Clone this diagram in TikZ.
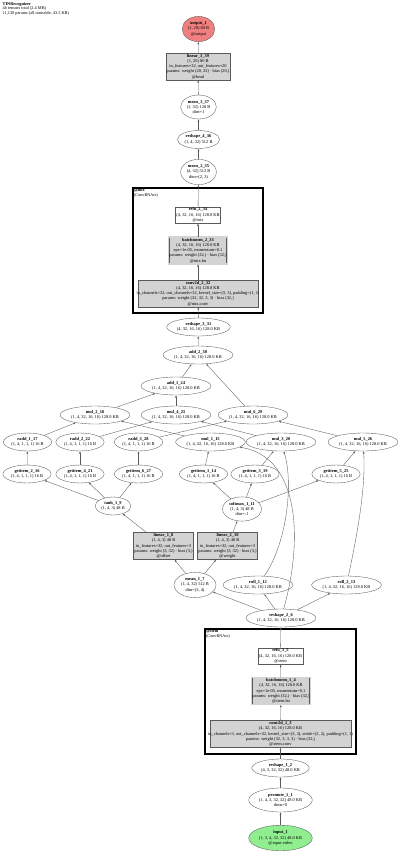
\documentclass[tikz,border=0pt]{standalone}
\usepackage{fontspec}
\setmainfont{Liberation Serif}
\usepackage{tikz}
\usetikzlibrary{arrows.meta,shapes.geometric}
\definecolor{tvgray}{HTML}{D3D3D3}
\definecolor{tvline}{HTML}{5A5A5A}
\definecolor{tvred}{HTML}{F08080}
\definecolor{tvgreen}{HTML}{90EE90}
\tikzset{
  tvtext/.style={font=\fontsize{4.4}{5.3}\selectfont,align=center},
  tvnode/.style={tvtext,ellipse,draw=tvline,line width=0.35pt,inner xsep=0.9pt,inner ysep=1.7pt},
  tvop/.style={tvtext,rectangle,draw=tvline,fill=tvgray,line width=0.35pt,inner xsep=0.8pt,inner ysep=1pt},
  tvact/.style={tvop,fill=white},
  tvbn/.style={tvop,double=tvgray,double distance=1.1pt},
  tvmod/.style={draw=black,line width=1.3pt,inner sep=0pt},
  tvmodlab/.style={font=\fontsize{4.2}{4.8}\selectfont,align=left,anchor=north west,inner sep=1.5pt},
  tvedge/.style={-{Latex[length=2.4pt,width=1.8pt]},draw=tvline,line width=0.35pt}
}

\begin{document}
\begin{tikzpicture}[x=1pt,y=-1pt]
\useasboundingbox (0,0) rectangle (400,854);
\node[tvmodlab,font=\fontsize{4.3}{4.6}\selectfont] (title) at (1,0.5) {\textbf{TINRecognizer}\\46 tensors total (2.4 MB)\\11,130 params (all trainable, 43.5 KB)};
% module frames
\node[tvmod,minimum width=130pt,minimum height=125pt] (mix) at (198,250.5) {};
\node[tvmodlab] (mixlab) at (mix.north west) {\textbf{@mix}\\(ConvBNAct)};
\node[tvmod,minimum width=151pt,minimum height=125pt] (stem) at (280.5,691.5) {};
\node[tvmodlab] (stemlab) at (stem.north west) {\textbf{@stem}\\(ConvBNAct)};
% head
\node[tvnode,fill=tvred] (output_1) at (198.5,29) {\textbf{output\_1}\\(1, 20) 80 B\\@output};
\node[tvop] (linear_3_39) at (198,66.5) {\textbf{linear\_3\_39}\\(1, 20) 80 B\\in\_features=32, out\_features=20\\params: weight (20, 32) · bias (20,)\\@head};
\node[tvnode] (mean_3_37) at (198.5,107) {\textbf{mean\_3\_37}\\(1, 32) 128 B\\dim=1};
\node[tvnode] (reshape_4_36) at (198.5,139.5) {\textbf{reshape\_4\_36}\\(1, 4, 32) 512 B};
\node[tvnode] (mean_2_35) at (198.5,172) {\textbf{mean\_2\_35}\\(4, 32) 512 B\\dim=(2, 3)};
\node[tvact] (relu_2_34) at (198,215) {\textbf{relu\_2\_34}\\(4, 32, 16, 16) 128.0 KB\\@mix};
\node[tvbn] (batchnorm_2_33) at (198,250.5) {\textbf{batchnorm\_2\_33}\\(4, 32, 16, 16) 128.0 KB\\eps=1e-05, momentum=0.1\\params: weight (32,) · bias (32,)\\@mix.bn};
\node[tvop,inner xsep=-1.5pt] (conv2d_2_32) at (198,293.5) {\textbf{conv2d\_2\_32}\\(4, 32, 16, 16) 128.0 KB\\in\_channels=32, out\_channels=32, kernel\_size=(3, 3), padding=(1, 1)\\params: weight (32, 32, 3, 3) · bias (32,)\\@mix.conv};
\node[tvnode] (reshape_3_31) at (198.5,327) {\textbf{reshape\_3\_31}\\(4, 32, 16, 16) 128.0 KB};
% interlace block
\node[tvnode] (add_2_30) at (198,355) {\textbf{add\_2\_30}\\(1, 4, 32, 16, 16) 128.0 KB};
\node[tvnode] (add_1_24) at (176,386) {\textbf{add\_1\_24}\\(1, 4, 32, 16, 16) 128.0 KB};
\node[tvnode] (mul_2_18) at (95,415) {\textbf{mul\_2\_18}\\(1, 4, 32, 16, 16) 128.0 KB};
\node[tvnode] (mul_4_23) at (176,415) {\textbf{mul\_4\_23}\\(1, 4, 32, 16, 16) 128.0 KB};
\node[tvnode] (mul_6_29) at (253,415) {\textbf{mul\_6\_29}\\(1, 4, 32, 16, 16) 128.0 KB};
\node[tvnode] (radd_1_17) at (27.5,442) {\textbf{radd\_1\_17}\\(1, 4, 1, 1, 1) 16 B};
\node[tvnode] (radd_2_22) at (80,442) {\textbf{radd\_2\_22}\\(1, 4, 1, 1, 1) 16 B};
\node[tvnode] (radd_3_28) at (138.5,442) {\textbf{radd\_3\_28}\\(1, 4, 1, 1, 1) 16 B};
\node[tvnode] (mul_1_15) at (210.5,442) {\textbf{mul\_1\_15}\\(1, 4, 32, 16, 16) 128.0 KB};
\node[tvnode] (mul_3_20) at (281,442) {\textbf{mul\_3\_20}\\(1, 4, 32, 16, 16) 128.0 KB};
\node[tvnode] (mul_5_26) at (363,442) {\textbf{mul\_5\_26}\\(1, 4, 32, 16, 16) 128.0 KB};
\node[tvnode] (getitem_2_16) at (27,474) {\textbf{getitem\_2\_16}\\(1, 4, 1, 1, 1) 16 B};
\node[tvnode] (getitem_4_21) at (80,474) {\textbf{getitem\_4\_21}\\(1, 4, 1, 1, 1) 16 B};
\node[tvnode] (getitem_6_27) at (138.5,474) {\textbf{getitem\_6\_27}\\(1, 4, 1, 1, 1) 16 B};
\node[tvnode] (getitem_1_14) at (203.5,474) {\textbf{getitem\_1\_14}\\(1, 4, 1, 1, 1) 16 B};
\node[tvnode] (getitem_3_19) at (255,474) {\textbf{getitem\_3\_19}\\(1, 4, 1, 1, 1) 16 B};
\node[tvnode] (getitem_5_25) at (336,474) {\textbf{getitem\_5\_25}\\(1, 4, 1, 1, 1) 16 B};
\node[tvnode] (tanh_1_9) at (113,506) {\textbf{tanh\_1\_9}\\(1, 4, 3) 48 B};
\node[tvnode] (softmax_1_11) at (242,509) {\textbf{softmax\_1\_11}\\(1, 4, 3) 48 B\\dim=-1};
\node[tvop] (linear_1_8) at (163.5,546) {\textbf{linear\_1\_8}\\(1, 4, 3) 48 B\\in\_features=32, out\_features=3\\params: weight (3, 32) · bias (3,)\\@offset};
\node[tvop] (linear_2_10) at (227.5,546) {\textbf{linear\_2\_10}\\(1, 4, 3) 48 B\\in\_features=32, out\_features=3\\params: weight (3, 32) · bias (3,)\\@weight};
\node[tvnode] (mean_1_7) at (195,585) {\textbf{mean\_1\_7}\\(1, 4, 32) 512 B\\dim=(3, 4)};
\node[tvnode] (roll_1_12) at (258,585) {\textbf{roll\_1\_12}\\(1, 4, 32, 16, 16) 128.0 KB};
\node[tvnode] (roll_2_13) at (346.5,585) {\textbf{roll\_2\_13}\\(1, 4, 32, 16, 16) 128.0 KB};
\node[tvnode] (reshape_2_6) at (281,618) {\textbf{reshape\_2\_6}\\(1, 4, 32, 16, 16) 128.0 KB};
% stem
\node[tvact] (relu_1_5) at (280.5,656) {\textbf{relu\_1\_5}\\(4, 32, 16, 16) 128.0 KB\\@stem};
\node[tvbn] (batchnorm_1_4) at (281,691) {\textbf{batchnorm\_1\_4}\\(4, 32, 16, 16) 128.0 KB\\eps=1e-05, momentum=0.1\\params: weight (32,) · bias (32,)\\@stem.bn};
\node[tvop,inner xsep=-2pt] (conv2d_1_3) at (280.5,734) {\textbf{conv2d\_1\_3}\\(4, 32, 16, 16) 128.0 KB\\in\_channels=3, out\_channels=32, kernel\_size=(3, 3), stride=(2, 2), padding=(1, 1)\\params: weight (32, 3, 3, 3) · bias (32,)\\@stem.conv};
\node[tvnode] (reshape_1_2) at (280.5,768) {\textbf{reshape\_1\_2}\\(4, 3, 32, 32) 48.0 KB};
\node[tvnode] (permute_1_1) at (280.5,800) {\textbf{permute\_1\_1}\\(1, 4, 3, 32, 32) 48.0 KB\\dims=0};
\node[tvnode,fill=tvgreen] (input_1) at (280.5,838) {\textbf{input\_1}\\(1, 3, 4, 32, 32) 48.0 KB\\@input:video};
% edges
\foreach \a/\b in {input_1/permute_1_1,permute_1_1/reshape_1_2,reshape_1_2/conv2d_1_3,
  conv2d_1_3/batchnorm_1_4,batchnorm_1_4/relu_1_5,relu_1_5/reshape_2_6,
  reshape_2_6/mean_1_7,reshape_2_6/roll_1_12,reshape_2_6/roll_2_13,
  mean_1_7/linear_1_8,mean_1_7/linear_2_10,linear_1_8/tanh_1_9,linear_2_10/softmax_1_11,
  tanh_1_9/getitem_2_16,tanh_1_9/getitem_4_21,tanh_1_9/getitem_6_27,
  softmax_1_11/getitem_1_14,softmax_1_11/getitem_3_19,softmax_1_11/getitem_5_25,
  getitem_1_14/mul_1_15,getitem_3_19/mul_3_20,getitem_5_25/mul_5_26,
  getitem_2_16/radd_1_17,getitem_4_21/radd_2_22,getitem_6_27/radd_3_28,
  radd_1_17/mul_2_18,mul_1_15/mul_2_18,radd_2_22/mul_4_23,mul_3_20/mul_4_23,
  radd_3_28/mul_6_29,mul_5_26/mul_6_29,mul_2_18/add_1_24,mul_4_23/add_1_24,
  add_1_24/add_2_30,mul_6_29/add_2_30,add_2_30/reshape_3_31,reshape_3_31/conv2d_2_32,
  conv2d_2_32/batchnorm_2_33,batchnorm_2_33/relu_2_34,relu_2_34/mean_2_35,
  mean_2_35/reshape_4_36,reshape_4_36/mean_3_37,mean_3_37/linear_3_39,linear_3_39/output_1}
  {\draw[tvedge] (\a) -- (\b);}
\draw[tvedge] (reshape_2_6) .. controls (302,545) and (302,458) .. (mul_1_15);
\draw[tvedge] (roll_1_12) .. controls (286,545) and (294,485) .. (mul_3_20);
\draw[tvedge] (roll_2_13) .. controls (356,540) and (366,490) .. (mul_5_26);
\end{tikzpicture}
\end{document}
